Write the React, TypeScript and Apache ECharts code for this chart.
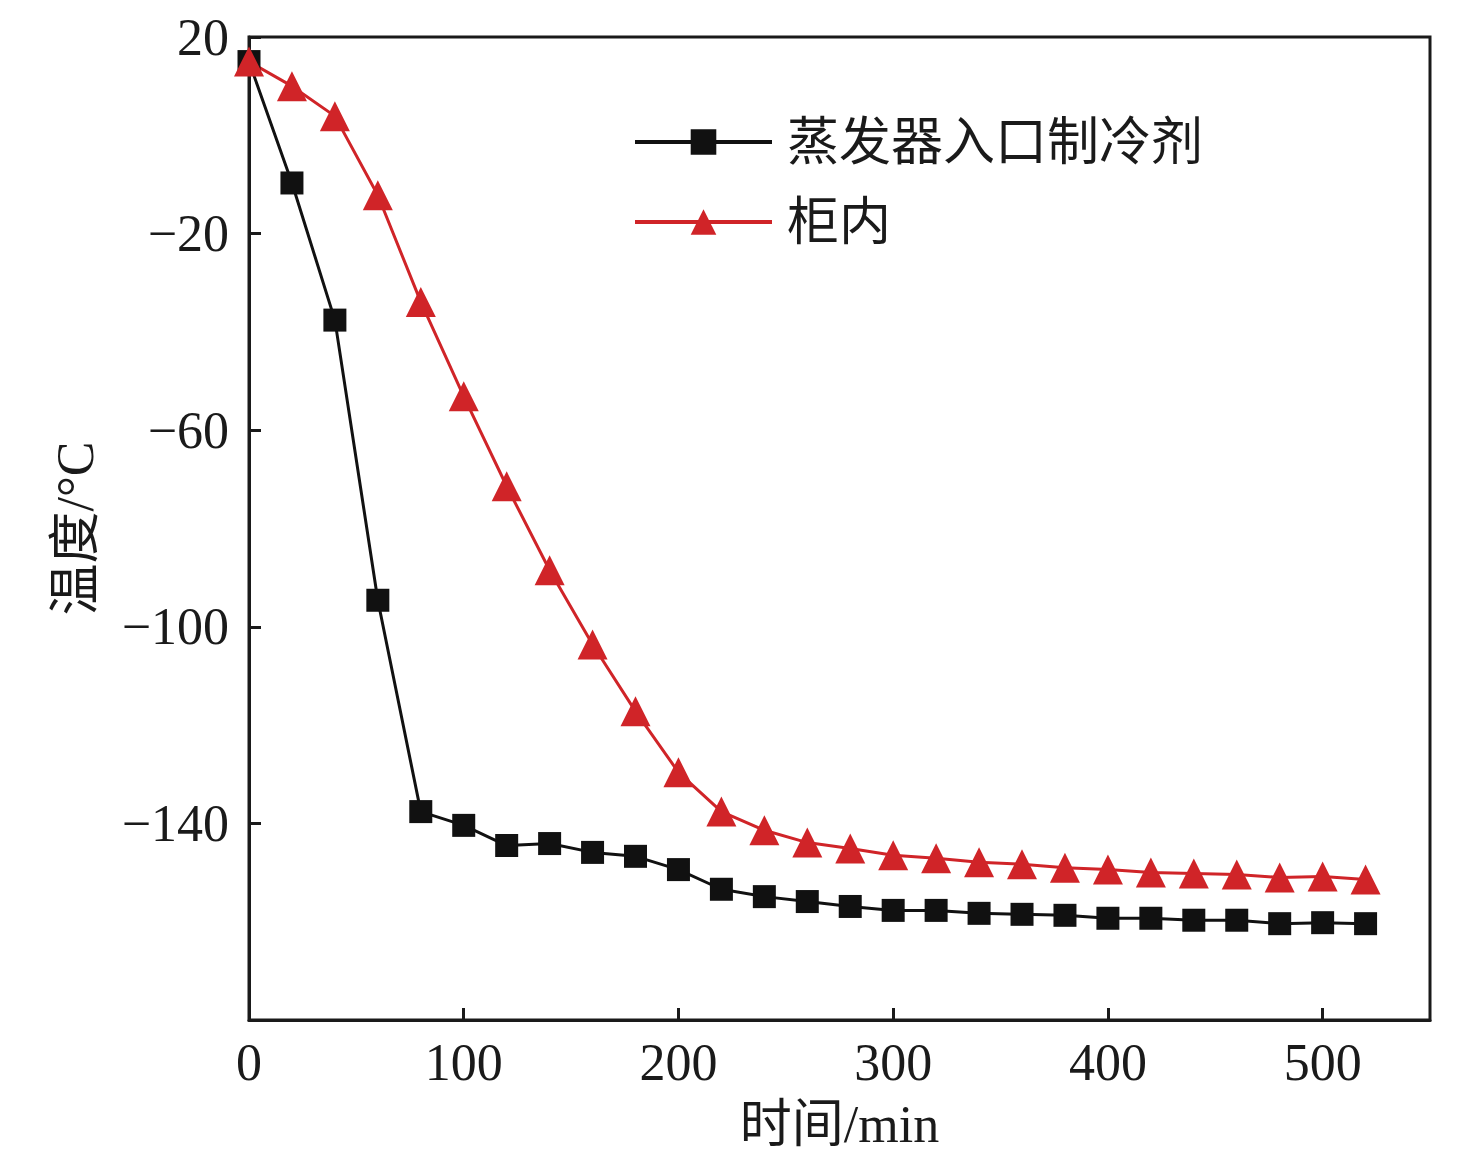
import { useEffect, useRef } from "react";
import * as echarts from "echarts";

const times = [
  0, 20, 40, 60, 80, 100, 120, 140, 160, 180, 200, 220, 240, 260, 280, 300, 320, 340, 360, 380, 400,
  420, 440, 460, 480, 500, 520,
];

// 蒸发器入口制冷剂
const evaporatorInlet = [
  15, -9.7, -37.6, -94.6, -137.6, -140.4, -144.5, -144.1, -145.9, -146.7, -149.4, -153.4, -154.9,
  -155.9, -156.9, -157.7, -157.7, -158.3, -158.5, -158.7, -159.3, -159.3, -159.7, -159.7, -160.4,
  -160.2, -160.4,
];

// 柜内
const cabinet = [
  15, 10, 3.9, -12.2, -33.9, -53.1, -71.4, -88.5, -103.6, -117.2, -129.6, -137.6, -141.4, -143.9,
  -145.1, -146.5, -147.1, -147.9, -148.3, -149.0, -149.4, -150.0, -150.2, -150.4, -151.0, -150.8,
  -151.4,
];

const xTicks = [0, 100, 200, 300, 400, 500];
const yTicks = [-140, -100, -60, -20, 20];

const FONT = "'Liberation Serif', 'Noto Sans CJK SC', serif";
const INK = "#1a1a1a";
const RED = "#d02428";

const fmtNum = (v: number) => (v < 0 ? `\u2212${Math.abs(v)}` : String(v));

export default function App() {
  const ref = useRef<HTMLDivElement>(null);

  useEffect(() => {
    if (!ref.current) return;
    const chart = echarts.init(ref.current, null, { renderer: "svg" });
    chart.setOption({
      animation: false,
      backgroundColor: "#fff",
      grid: {
        left: 241,
        right: 38,
        top: 29,
        bottom: 139,
        show: true,
        borderColor: INK,
        borderWidth: 3,
      },
      legend: {
        left: 620,
        top: 102,
        orient: "vertical",
        itemWidth: 137,
        itemHeight: 32,
        itemGap: 26,
        data: ["蒸发器入口制冷剂", "柜内"],
        lineStyle: { width: 4 },
        textStyle: {
          fontFamily: FONT,
          fontSize: 52,
          lineHeight: 54,
          color: INK,
          padding: [0, 0, 0, 10],
        },
      },
      xAxis: {
        type: "value",
        min: 0,
        max: 550,
        name: "时间/min",
        nameLocation: "middle",
        nameGap: 78,
        nameTextStyle: { fontFamily: FONT, fontSize: 52, color: INK },
        axisLine: { onZero: false, lineStyle: { color: INK, width: 3 } },
        axisTick: { inside: true, length: 12, lineStyle: { color: INK, width: 3 }, customValues: xTicks },
        axisLabel: {
          customValues: xTicks,
          fontFamily: FONT,
          fontSize: 52,
          color: INK,
          margin: 16,
          formatter: (v: number) => fmtNum(v),
        },
        splitLine: { show: false },
      },
      yAxis: {
        type: "value",
        min: -180,
        max: 20,
        name: "温度/°C",
        nameLocation: "middle",
        nameGap: 148,
        nameTextStyle: { fontFamily: FONT, fontSize: 52, color: INK },
        axisLine: { onZero: false, lineStyle: { color: INK, width: 3 } },
        axisTick: { inside: true, length: 12, lineStyle: { color: INK, width: 3 }, customValues: yTicks },
        axisLabel: {
          customValues: yTicks,
          fontFamily: FONT,
          fontSize: 52,
          color: INK,
          margin: 20,
          formatter: (v: number) => fmtNum(v),
        },
        splitLine: { show: false },
      },
      series: [
        {
          name: "蒸发器入口制冷剂",
          type: "line",
          data: times.map((t, i) => [t, evaporatorInlet[i]]),
          symbol: "rect",
          symbolSize: 23,
          lineStyle: { color: "#111", width: 3 },
          itemStyle: { color: "#111" },
        },
        {
          name: "柜内",
          type: "line",
          data: times.map((t, i) => [t, cabinet[i]]),
          symbol: "triangle",
          symbolSize: [30, 30],
          lineStyle: { color: RED, width: 3 },
          itemStyle: { color: RED },
        },
      ],
    });
    return () => chart.dispose();
  }, []);

  return <div ref={ref} style={{ width: 1460, height: 1151 }} />;
}
